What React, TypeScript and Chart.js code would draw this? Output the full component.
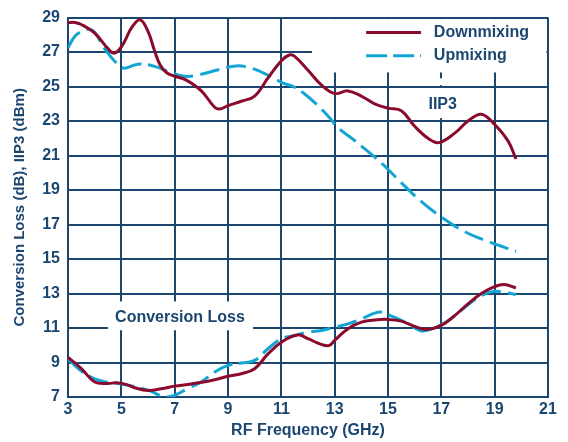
import React, { useEffect, useRef } from "react";
import { Chart, registerables } from "chart.js";

Chart.register(...registerables);

// ---- Data ----
const downIIP3Freq = [3, 3.25, 3.5, 4, 4.5, 4.7, 4.9, 5.13, 5.38, 5.7, 6.0, 6.25, 6.45, 6.7, 7.0, 7.4, 8, 8.5, 8.7, 9, 9.5, 10, 10.5, 11, 11.3, 11.5, 12, 12.5, 13, 13.5, 14, 14.5, 15, 15.5, 16, 16.5, 16.9, 17.5, 18, 18.5, 19, 19.5, 19.8];
const downIIP3 = [28.7, 28.72, 28.6, 28.1, 27.2, 26.94, 27.1, 27.64, 28.4, 28.87, 28.2, 27.06, 26.27, 25.8, 25.6, 25.4, 24.75, 23.8, 23.7, 23.9, 24.15, 24.45, 25.5, 26.5, 26.83, 26.75, 25.95, 25.1, 24.6, 24.75, 24.45, 24.0, 23.75, 23.6, 22.7, 22.0, 21.75, 22.3, 23.0, 23.4, 22.8, 21.85, 20.8];

const upIIP3Freq = [3, 3.25, 3.5, 3.75, 4, 4.35, 4.88, 5.13, 5.62, 6.25, 6.88, 7.38, 7.8, 8.7, 9.3, 9.8, 10.45, 11.07, 11.45, 11.83, 12.33, 12.81, 13.13, 13.6, 14.2, 14.8, 15.45, 16.2, 16.9, 17.8, 18.7, 19.8];
const upIIP3 = [27.25, 27.9, 28.2, 28.32, 28.15, 27.25, 26.27, 26.07, 26.3, 26.17, 25.8, 25.6, 25.65, 26.0, 26.2, 26.1, 25.7, 25.2, 25.0, 24.63, 23.96, 23.19, 22.6, 22.05, 21.3, 20.5, 19.5, 18.4, 17.55, 16.65, 16.05, 15.45];

const downCLFreq = [3, 3.5, 4, 4.5, 4.8, 5.2, 5.5, 6, 6.5, 7, 7.5, 8, 8.5, 9, 9.5, 10, 10.5, 11, 11.6, 12, 12.5, 12.8, 13, 13.5, 14, 14.5, 15, 15.5, 16, 16.45, 17, 17.5, 18, 18.5, 19, 19.35, 19.8];
const downCL = [9.3, 8.65, 7.87, 7.78, 7.83, 7.72, 7.54, 7.38, 7.48, 7.63, 7.73, 7.85, 8.0, 8.2, 8.35, 8.64, 9.5, 10.18, 10.6, 10.38, 10.05, 9.99, 10.28, 10.96, 11.34, 11.47, 11.5, 11.4, 11.09, 10.92, 11.15, 11.72, 12.4, 13.0, 13.4, 13.52, 13.33];

const upCLFreq = [3, 3.5, 4, 4.5, 5, 5.5, 6, 6.65, 7, 7.5, 8, 8.5, 9, 9.5, 10, 10.5, 11, 11.5, 12, 12.5, 13, 13.5, 14, 14.5, 14.75, 15, 15.5, 16, 16.3, 17, 17.5, 18, 18.5, 19, 19.4, 19.8];
const upCL = [9.2, 8.5, 8.05, 7.85, 7.75, 7.6, 7.4, 7.0, 7.1, 7.5, 7.87, 8.45, 8.83, 8.97, 9.12, 9.8, 10.38, 10.57, 10.76, 10.86, 11.05, 11.24, 11.53, 11.86, 11.92, 11.77, 11.44, 11.0, 10.82, 11.19, 11.7, 12.35, 12.88, 13.13, 13.05, 12.94];

const seriesNames = ["Downmixing", "Upmixing"];
const xTitle = "RF Frequency (GHz)";
const yTitle = "Conversion Loss (dB), IIP3 (dBm)";
const labelIIP3 = "IIP3";
const labelCL = "Conversion Loss";

const RED = "#8a0b2c";
const CYAN = "#13a6d5";
const NAVY = "#1b4670";
const FONT = '"Liberation Sans", Arial, sans-serif';
const DASH = [20, 7];

const pts = (xs: number[], ys: number[]) => xs.map((x, i) => ({ x, y: ys[i] }));

const overlayPlugin = {
  id: "overlay",
  beforeDatasetsDraw(chart: any) {
    const { ctx, chartArea, scales } = chart;
    const xs = scales.x;
    const ys = scales.y;
    ctx.save();
    ctx.fillStyle = "#ffffff";
    // legend box
    const lx0 = xs.getPixelForValue(12.15);
    const ly1 = ys.getPixelForValue(25.82);
    ctx.fillRect(lx0, chartArea.top + 1.5, chartArea.right - 1.5 - lx0, ly1 - chartArea.top - 1.5);
    // conversion loss label box
    const cx0 = xs.getPixelForValue(4.5);
    const cx1 = xs.getPixelForValue(9.94);
    const cy0 = ys.getPixelForValue(12.54);
    const cy1 = ys.getPixelForValue(10.87);
    ctx.fillRect(cx0, cy0, cx1 - cx0, cy1 - cy0);
    // IIP3 label gap in vertical line
    const ix = xs.getPixelForValue(17);
    const g1a = ys.getPixelForValue(25.48);
    const g1b = ys.getPixelForValue(25.08);
    const g2a = ys.getPixelForValue(24.92);
    const g2b = ys.getPixelForValue(23.17);
    ctx.fillRect(ix - 2, g1a, 4, g1b - g1a);
    ctx.fillRect(ix - 2, g2a, 4, g2b - g2a);
    ctx.restore();
  },
  afterDatasetsDraw(chart: any) {
    const { ctx, scales } = chart;
    const xs = scales.x;
    const ys = scales.y;
    ctx.save();
    ctx.font = `bold 16px ${FONT}`;
    ctx.fillStyle = NAVY;
    ctx.textBaseline = "middle";
    // legend
    const lxa = xs.getPixelForValue(14.18);
    const lxb = xs.getPixelForValue(16.24);
    const ly1 = ys.getPixelForValue(28.13);
    const ly2 = ys.getPixelForValue(26.79);
    ctx.lineWidth = 3;
    ctx.strokeStyle = RED;
    ctx.beginPath();
    ctx.moveTo(lxa, ly1);
    ctx.lineTo(lxb, ly1);
    ctx.stroke();
    ctx.strokeStyle = CYAN;
    ctx.setLineDash([21, 6]);
    ctx.beginPath();
    ctx.moveTo(lxa, ly2);
    ctx.lineTo(lxb, ly2);
    ctx.stroke();
    ctx.setLineDash([]);
    const tx = xs.getPixelForValue(16.72);
    ctx.textAlign = "left";
    ctx.fillText(seriesNames[0], tx, ly1);
    ctx.fillText(seriesNames[1], tx, ly2);
    // labels
    ctx.textAlign = "center";
    ctx.fillText(labelIIP3, xs.getPixelForValue(17.05), ys.getPixelForValue(23.98));
    ctx.fillText(labelCL, xs.getPixelForValue(7.2), ys.getPixelForValue(11.62));
    ctx.restore();
  },
};

export default function App() {
  const canvasRef = useRef<HTMLCanvasElement | null>(null);

  useEffect(() => {
    const canvas = canvasRef.current;
    if (!canvas) return;
    const common = {
      pointRadius: 0,
      borderWidth: 3,
      tension: 0.4,
      fill: false,
    };
    const chart = new Chart(canvas, {
      type: "line",
      data: {
        datasets: [
          { ...common, label: "Downmixing IIP3", data: pts(downIIP3Freq, downIIP3), borderColor: RED, order: 0 },
          { ...common, label: "Downmixing CL", data: pts(downCLFreq, downCL), borderColor: RED, order: 0 },
          { ...common, label: "Upmixing IIP3", data: pts(upIIP3Freq, upIIP3), borderColor: CYAN, borderDash: DASH, order: 1 },
          { ...common, label: "Upmixing CL", data: pts(upCLFreq, upCL), borderColor: CYAN, borderDash: DASH, order: 1 },
        ],
      },
      options: {
        responsive: false,
        animation: false,
        devicePixelRatio: 1,
        layout: { padding: { top: 16, right: 20, left: 0, bottom: 0 } },
        plugins: { legend: { display: false }, tooltip: { enabled: false } },
        scales: {
          x: {
            type: "linear",
            min: 3,
            max: 21,
            afterFit: (s: any) => { s.height = 45; },
            ticks: { stepSize: 2, color: NAVY, font: { family: FONT, size: 16, weight: "bold" }, padding: 3, maxRotation: 0 },
            grid: { color: NAVY, lineWidth: 2, drawTicks: false },
            border: { display: true, color: NAVY, width: 2 },
            title: { display: true, text: xTitle, color: NAVY, font: { family: FONT, size: 16, weight: "bold" }, padding: { top: 0, bottom: 2 } },
          },
          y: {
            type: "linear",
            min: 7,
            max: 29,
            afterFit: (s: any) => { s.width = 68; },
            ticks: { stepSize: 2, color: NAVY, font: { family: FONT, size: 16, weight: "bold" }, padding: 8 },
            grid: { color: NAVY, lineWidth: 2, drawTicks: false },
            border: { display: true, color: NAVY, width: 2 },
            title: { display: true, text: yTitle, color: NAVY, font: { family: FONT, size: 15, weight: "bold" }, padding: { top: 11, bottom: 0 } },
          },
        },
      },
      plugins: [overlayPlugin],
    });
    return () => chart.destroy();
  }, []);

  return (
    <div style={{ position: "fixed", left: 0, top: 0, width: 568, height: 442, background: "#fff" }}>
      <canvas ref={canvasRef} width={568} height={442} style={{ display: "block" }} />
    </div>
  );
}
